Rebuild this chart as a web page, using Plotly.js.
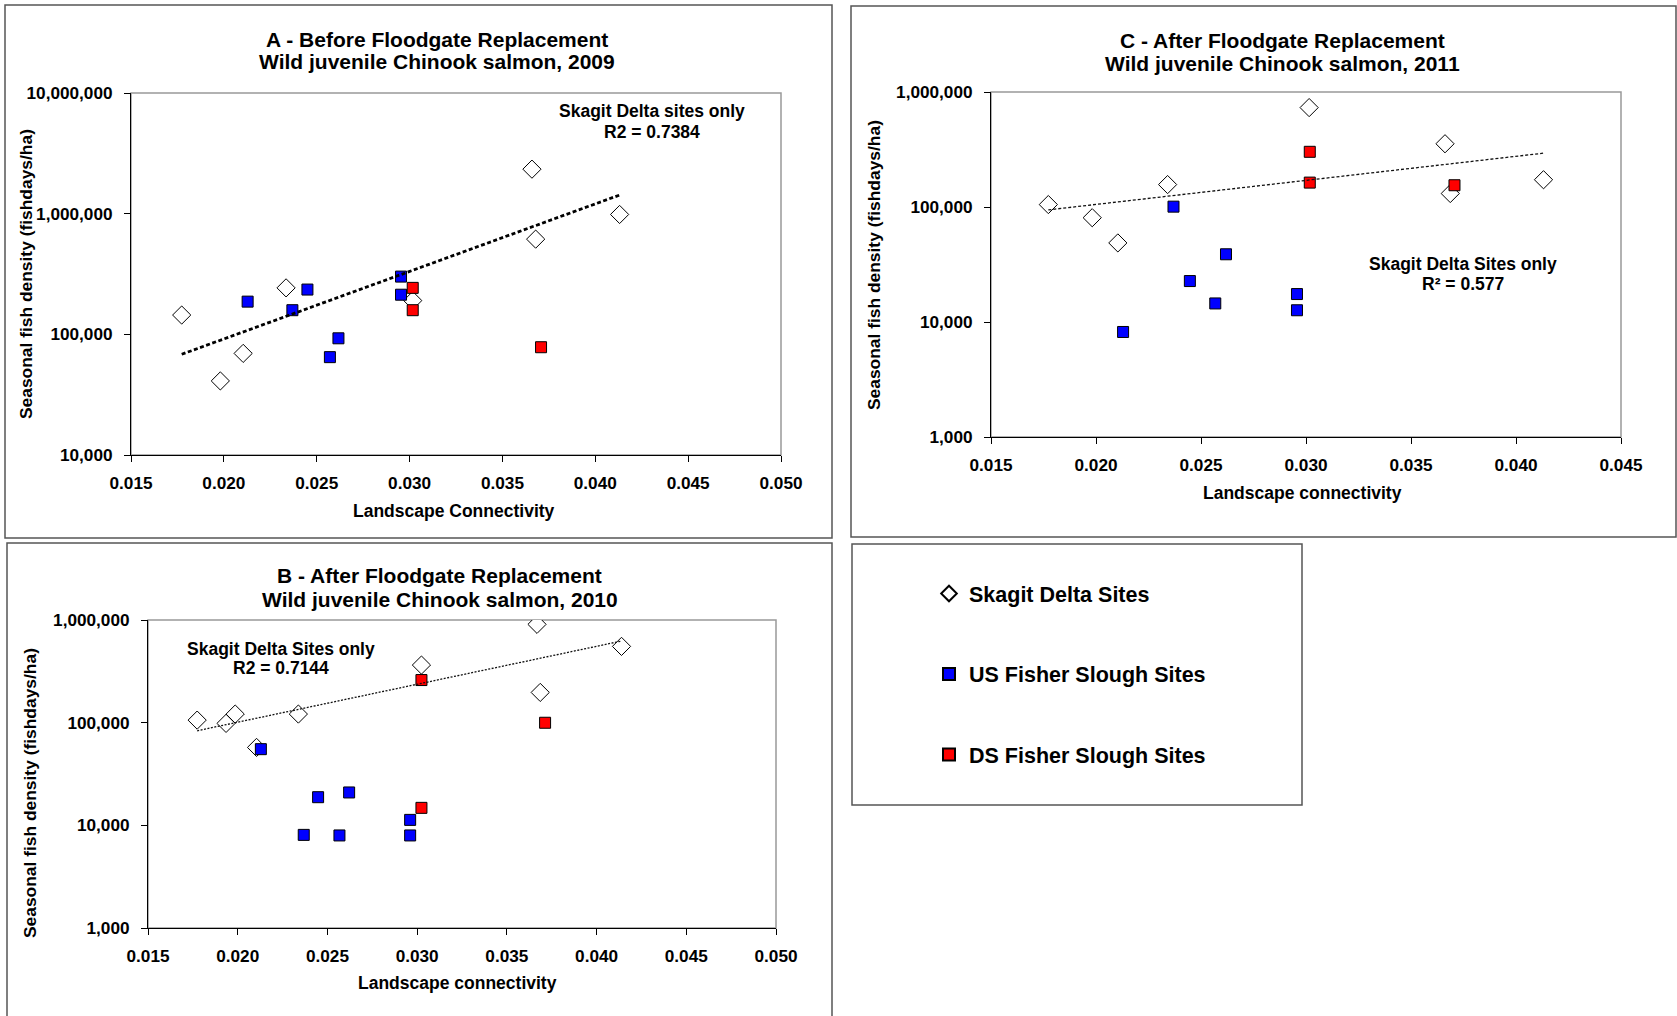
<!DOCTYPE html>
<html>
<head>
<meta charset="utf-8">
<script src="https://cdn.plot.ly/plotly-3.0.1.min.js"></script>
<style>html,body{margin:0;padding:0;background:#fff}#chart{width:1677px;height:1016px}</style>
</head>
<body>
<div id="chart"></div>
<script>
// ---------- DATA ----------
// Panel A - 2009 (before floodgate replacement)
const skagitX_2009 = [0.01773, 0.01981, 0.02104, 0.02335, 0.03017, 0.03659, 0.03679, 0.04131];
const skagitY_2009 = [144500, 41100, 69500, 242700, 190500, 2338000, 615000, 985000];
const usX_2009 = [0.02128, 0.02369, 0.02450, 0.02571, 0.02617, 0.02954, 0.02954];
const usY_2009 = [186600, 158500, 235000, 64700, 92700, 301000, 213000];
const dsX_2009 = [0.03017, 0.03017, 0.03708];
const dsY_2009 = [242700, 158500, 78200];

// Panel B - 2010 (after floodgate replacement)
const skagitX_2010 = [0.01774, 0.01935, 0.01986, 0.02105, 0.02338, 0.03024, 0.03668, 0.03686, 0.04139];
const skagitY_2010 = [105900, 98400, 121300, 57400, 121300, 364000, 907000, 197000, 553000];
const usX_2010 = [0.02129, 0.02368, 0.02448, 0.02567, 0.02621, 0.02961, 0.02961];
const usY_2010 = [55200, 8070, 18800, 7970, 20900, 11300, 7970];
const dsX_2010 = [0.03024, 0.03024, 0.03713];
const dsY_2010 = [260000, 14800, 99800];

// Panel C - 2011 (after floodgate replacement)
const skagitX_2011 = [0.01773, 0.01982, 0.02104, 0.02341, 0.03015, 0.03662, 0.03687, 0.04131];
const skagitY_2011 = [105000, 80700, 48700, 156700, 732000, 354800, 131000, 172600];
const usX_2011 = [0.02129, 0.02369, 0.02447, 0.02568, 0.02619, 0.02957, 0.02957];
const usY_2011 = [8190, 100700, 22700, 14500, 38800, 17500, 12650];
const dsX_2011 = [0.03018, 0.03018, 0.03707];
const dsY_2011 = [302000, 163000, 154600];

// Series names and text
const seriesNames = ['Skagit Delta Sites', 'US Fisher Slough Sites', 'DS Fisher Slough Sites'];
const panelTitlesA = ['A - Before Floodgate Replacement', 'Wild juvenile Chinook salmon, 2009'];
const panelTitlesB = ['B - After Floodgate Replacement', 'Wild juvenile Chinook salmon, 2010'];
const panelTitlesC = ['C - After Floodgate Replacement', 'Wild juvenile Chinook salmon, 2011'];
const fitNoteA = ['Skagit Delta sites only', 'R2 = 0.7384'];
const fitNoteB = ['Skagit Delta Sites only', 'R2 = 0.7144'];
const fitNoteC = ['Skagit Delta Sites only', 'R\u00b2 = 0.577'];
const xTitleA = 'Landscape Connectivity';
const xTitleBC = 'Landscape connectivity';
const yTitle = 'Seasonal fish density (fishdays/ha)';

// Tick labels
const xTicks050 = [0.015, 0.020, 0.025, 0.030, 0.035, 0.040, 0.045, 0.050];
const xTickText050 = ['0.015', '0.020', '0.025', '0.030', '0.035', '0.040', '0.045', '0.050'];
const xTicks045 = [0.015, 0.020, 0.025, 0.030, 0.035, 0.040, 0.045];
const xTickText045 = ['0.015', '0.020', '0.025', '0.030', '0.035', '0.040', '0.045'];
const yTicksA = [10000, 100000, 1000000, 10000000];
const yTickTextA = ['10,000', '100,000', '1,000,000', '10,000,000'];
const yTicksBC = [1000, 10000, 100000, 1000000];
const yTickTextBC = ['1,000', '10,000', '100,000', '1,000,000'];

// ---------- HELPERS ----------
const W = 1677, H = 1016;
const px = v => v / W;
const py = v => 1 - v / H;
const FONT = 'Liberation Sans, Arial, Helvetica, sans-serif';

// exponential (log-linear) least-squares trendline through Skagit points
function expFit(xs, ys) {
  const n = xs.length;
  const ly = ys.map(v => Math.log10(v));
  const mx = xs.reduce((a, b) => a + b, 0) / n;
  const my = ly.reduce((a, b) => a + b, 0) / n;
  let sxy = 0, sxx = 0;
  for (let i = 0; i < n; i++) { sxy += (xs[i] - mx) * (ly[i] - my); sxx += (xs[i] - mx) ** 2; }
  const b = sxy / sxx, a = my - b * mx;
  const x0 = Math.min(...xs), x1 = Math.max(...xs);
  return { x: [x0, x1], y: [Math.pow(10, a + b * x0), Math.pow(10, a + b * x1)] };
}

function panelTraces(xa, ya, sx, sy, ux, uy, dx, dy, trendLine, showLeg) {
  const fit = expFit(sx, sy);
  return [
    { type: 'scatter', mode: 'markers', x: sx, y: sy, xaxis: xa, yaxis: ya, name: seriesNames[0],
      legendgroup: 'g1', showlegend: showLeg,
      marker: { symbol: 'diamond', size: 14, color: '#ffffff', line: { color: '#000000', width: 1 } } },
    { type: 'scatter', mode: 'markers', x: ux, y: uy, xaxis: xa, yaxis: ya, name: seriesNames[1],
      legendgroup: 'g2', showlegend: showLeg,
      marker: { symbol: 'square', size: 11, color: '#0000ff', line: { color: '#000000', width: 1 } } },
    { type: 'scatter', mode: 'markers', x: dx, y: dy, xaxis: xa, yaxis: ya, name: seriesNames[2],
      legendgroup: 'g3', showlegend: showLeg,
      marker: { symbol: 'square', size: 11, color: '#ff0000', line: { color: '#000000', width: 1 } } },
    { type: 'scatter', mode: 'lines', x: fit.x, y: fit.y, xaxis: xa, yaxis: ya, showlegend: false,
      hoverinfo: 'skip', line: trendLine }
  ];
}

const data = [
  ...panelTraces('x', 'y', skagitX_2009, skagitY_2009, usX_2009, usY_2009, dsX_2009, dsY_2009,
    { color: '#000', width: 2.8, dash: '4px,2.5px' }, true),
  ...panelTraces('x2', 'y2', skagitX_2011, skagitY_2011, usX_2011, usY_2011, dsX_2011, dsY_2011,
    { color: '#111', width: 1.3, dash: '3px,2px' }, false),
  ...panelTraces('x3', 'y3', skagitX_2010, skagitY_2010, usX_2010, usY_2010, dsX_2010, dsY_2010,
    { color: '#111', width: 1.3, dash: '2px,1.5px' }, false)
];

const tickFont = { family: FONT, size: 17.2, color: '#000', weight: 'bold' };

function xAxis(domain, anchor, range, vals, text) {
  return { domain, anchor, range, type: 'linear', tickmode: 'array', tickvals: vals, ticktext: text,
    ticks: 'outside', ticklen: 6, tickwidth: 1, tickcolor: '#000', showline: true, linecolor: '#000',
    linewidth: 1, showgrid: false, zeroline: false, tickfont: tickFont, ticklabelstandoff: 6,
    fixedrange: true };
}
function yAxis(domain, anchor, range, vals, text) {
  return { domain, anchor, range, type: 'log', tickmode: 'array', tickvals: vals, ticktext: text,
    ticks: 'outside', ticklen: 6, tickwidth: 1, tickcolor: '#000', showline: true, linecolor: '#000',
    linewidth: 1, showgrid: false, zeroline: false, tickfont: tickFont, ticklabelstandoff: 8,
    fixedrange: true };
}

function txt(x, y, text, size, angle) {
  return { xref: 'paper', yref: 'paper', x: px(x), y: py(y), text: '<b>' + text + '</b>', showarrow: false,
    xanchor: 'center', yanchor: 'middle', textangle: angle || 0,
    font: { family: FONT, size: size, color: '#000' } };
}

const TS = 21, AS = 17.5;
const annotations = [
  // Panel A
  txt(437, 39, panelTitlesA[0], TS), txt(437, 61, panelTitlesA[1], TS),
  txt(454, 511, xTitleA, AS), txt(26, 274, yTitle, 17.4, -90),
  txt(652, 111, fitNoteA[0], AS), txt(652, 132, fitNoteA[1], AS),
  // Panel C
  txt(1282, 40, panelTitlesC[0], TS), txt(1282, 63, panelTitlesC[1], TS),
  txt(1302, 493, xTitleBC, AS), txt(874, 265, yTitle, 17.4, -90),
  txt(1463, 264, fitNoteC[0], AS), txt(1463, 284, fitNoteC[1], AS),
  // Panel B
  txt(440, 575, panelTitlesB[0], TS), txt(440, 599, panelTitlesB[1], TS),
  txt(457, 983, xTitleBC, AS), txt(30, 793, yTitle, 17.4, -90),
  txt(281, 649, fitNoteB[0], AS), txt(281, 668, fitNoteB[1], AS)
];

function frame(x0, y0, x1, y1) {
  return { type: 'rect', xref: 'paper', yref: 'paper', x0: px(x0), x1: px(x1), y0: py(y1), y1: py(y0),
    line: { color: '#555', width: 1.5 }, fillcolor: 'rgba(0,0,0,0)', layer: 'below' };
}
function plotBorder(xr, yr) {
  return { type: 'rect', xref: xr + ' domain', yref: yr + ' domain', x0: 0, x1: 1, y0: 0, y1: 1,
    line: { color: '#999', width: 1.5 }, fillcolor: 'rgba(0,0,0,0)', layer: 'below' };
}

const shapes = [
  frame(5, 5, 832, 538),      // panel A
  frame(851, 6, 1676, 537),   // panel C
  frame(7, 543, 832, 1030),   // panel B
  frame(852, 544, 1302, 805), // legend box
  plotBorder('x', 'y'), plotBorder('x2', 'y2'), plotBorder('x3', 'y3')
];

const layout = {
  width: W, height: H, autosize: false,
  margin: { l: 0, r: 0, t: 0, b: 0, pad: 0 },
  paper_bgcolor: '#fff', plot_bgcolor: '#fff',
  showlegend: true,
  legend: { x: px(929), y: py(573), xanchor: 'left', yanchor: 'top',
    font: { family: FONT, size: 21.5, color: '#000', weight: 'bold' },
    bgcolor: 'rgba(0,0,0,0)', borderwidth: 0, traceorder: 'grouped', tracegroupgap: 49.5,
    itemsizing: 'constant' },
  xaxis: xAxis([px(131), px(781)], 'y', [0.015, 0.050], xTicks050, xTickText050),
  yaxis: yAxis([py(455), py(93)], 'x', [4, 7], yTicksA, yTickTextA),
  xaxis2: xAxis([px(991), px(1621)], 'y2', [0.015, 0.045], xTicks045, xTickText045),
  yaxis2: yAxis([py(437), py(92)], 'x2', [3, 6], yTicksBC, yTickTextBC),
  xaxis3: xAxis([px(148), px(776)], 'y3', [0.015, 0.050], xTicks050, xTickText050),
  yaxis3: yAxis([py(928), py(620)], 'x3', [3, 6], yTicksBC, yTickTextBC),
  annotations, shapes
};

Plotly.newPlot('chart', data, layout, { displayModeBar: false, staticPlot: true });
</script>
</body>
</html>
